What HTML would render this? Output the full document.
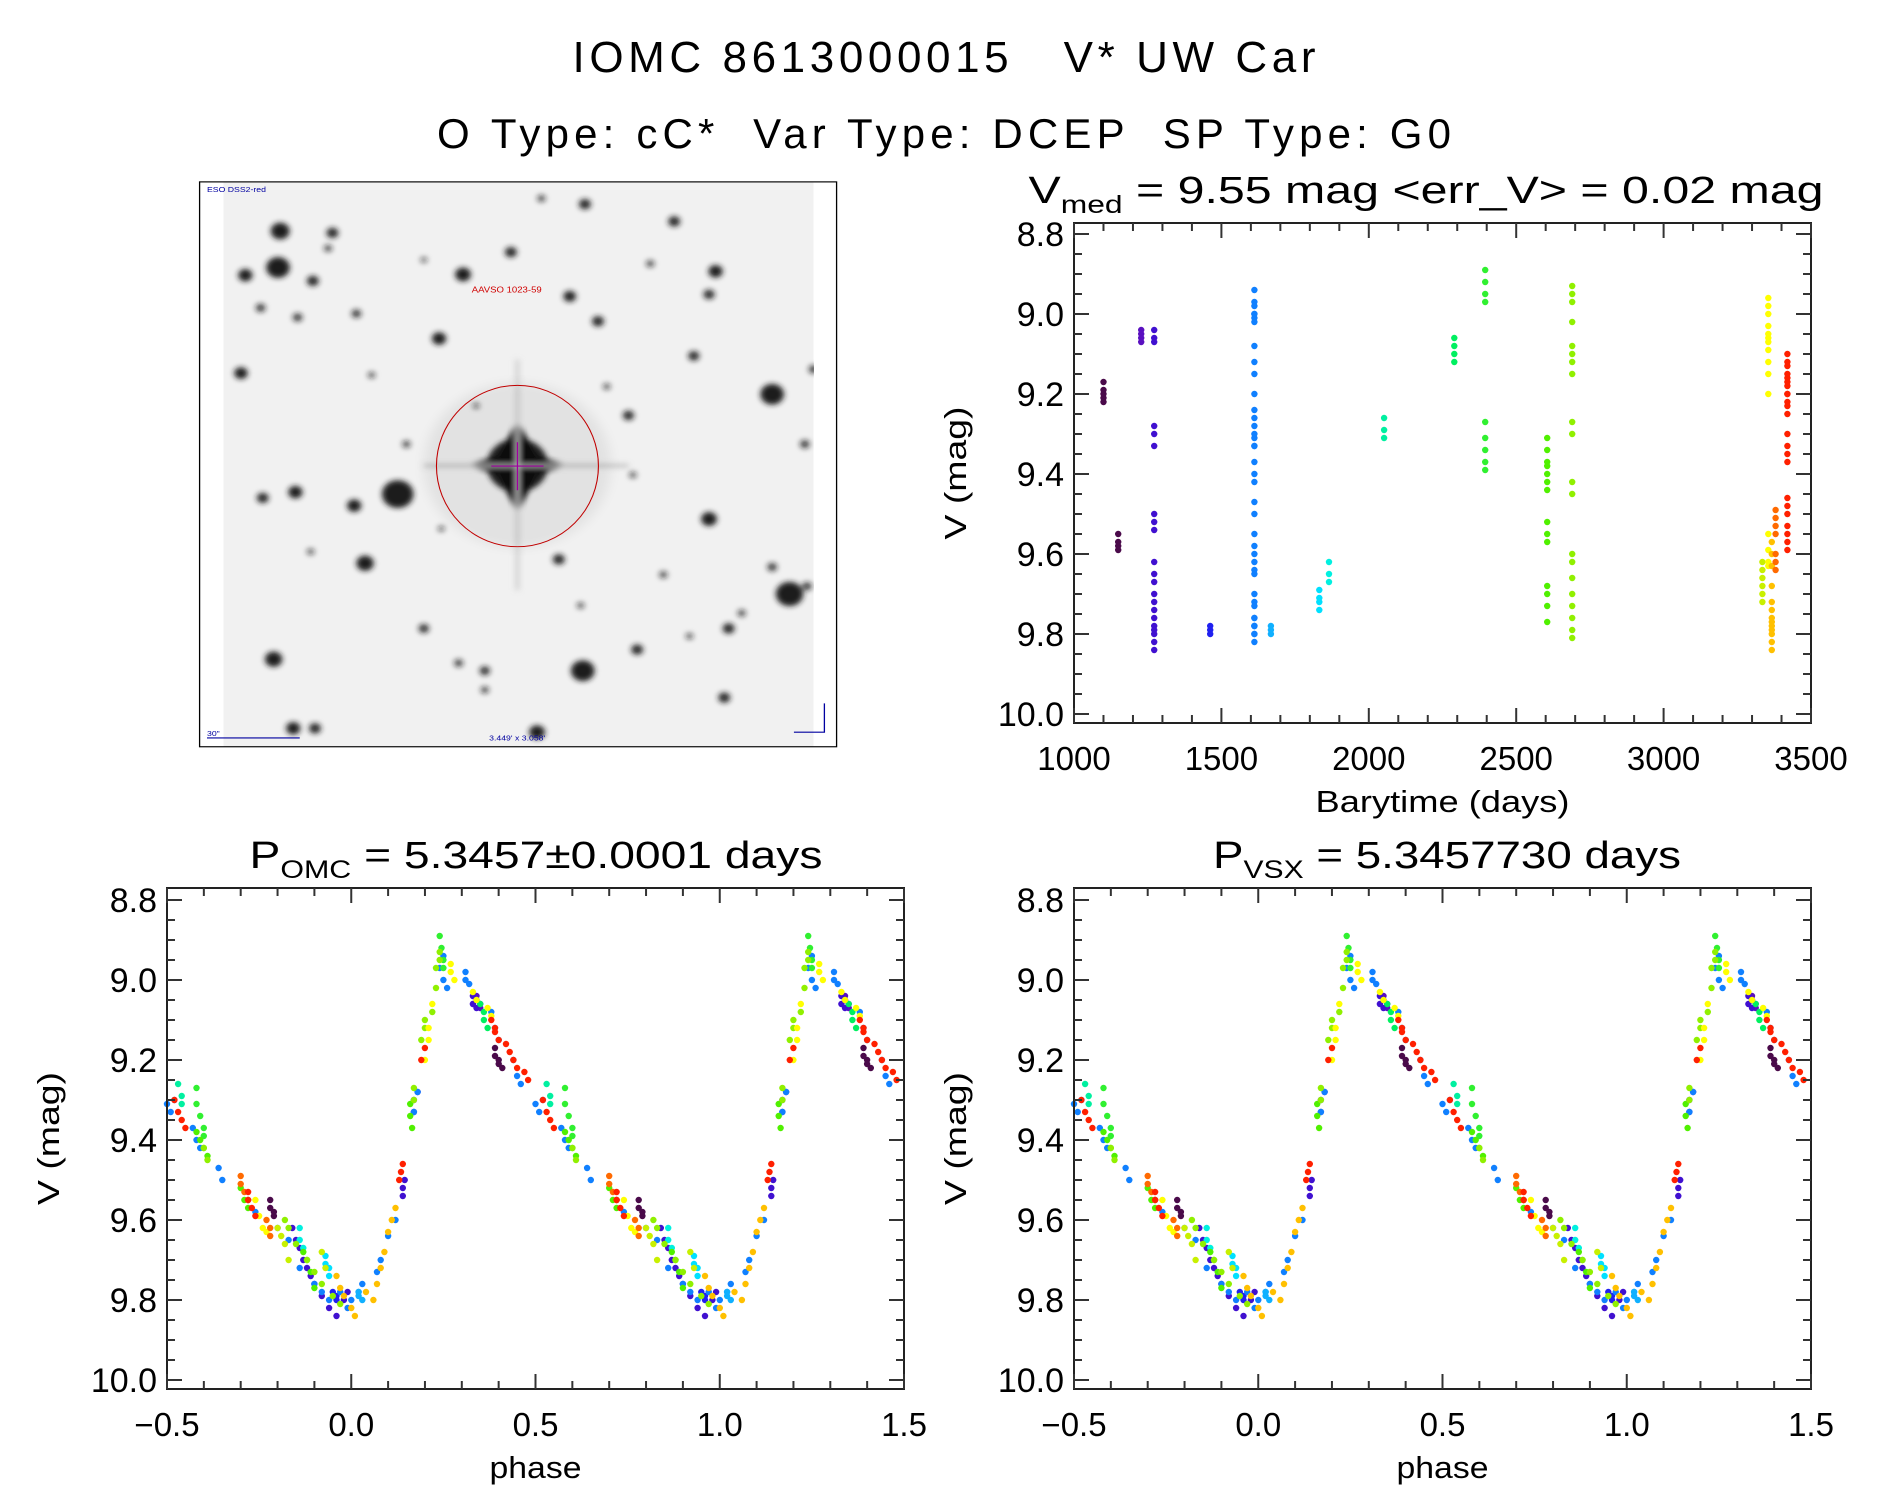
<!DOCTYPE html>
<html><head><meta charset="utf-8">
<style>
html,body{margin:0;padding:0;background:#fff;}
svg{display:block;}
text{font-family:"Liberation Sans","DejaVu Sans",sans-serif;fill:#000;}
</style></head>
<body>
<svg id="root" width="1889" height="1494" viewBox="0 0 1889 1494" xmlns="http://www.w3.org/2000/svg">
<defs>
<filter id="blur" x="-20%" y="-20%" width="140%" height="140%"><feGaussianBlur stdDeviation="7"/></filter>
<filter id="blur2" x="-50%" y="-50%" width="200%" height="200%"><feGaussianBlur stdDeviation="14"/></filter>
<clipPath id="imgclip"><rect x="100" y="57" width="1355" height="1471"/></clipPath>
</defs>
<text x="944" y="72" font-size="44" text-anchor="middle" textLength="743" lengthAdjust="spacing" xml:space="preserve">IOMC 8613000015   V* UW Car</text>
<text x="944" y="148" font-size="42" text-anchor="middle" textLength="1014" lengthAdjust="spacing" xml:space="preserve">O Type: cC*  Var Type: DCEP  SP Type: G0</text>

<g id="sky" transform="translate(180,160) scale(0.4354,0.384)">
<rect x="100" y="57" width="1355" height="1471" fill="#f1f1f1"/>
<g id="stars" clip-path="url(#imgclip)" filter="url(#blur)"></g>
<g clip-path="url(#imgclip)">
 <g filter="url(#blur)">
  <circle cx="775" cy="795" r="70" fill="#222"/>
  <polygon points="775,680 820,770 890,795 820,820 775,920 730,820 660,795 730,770" fill="#111"/>
  <rect x="560" y="792" width="470" height="8" fill="#bbb"/>
  <rect x="771" y="520" width="8" height="600" fill="#ccc"/>
 </g>
 <circle cx="775" cy="795" r="215" fill="#000" opacity="0.06" filter="url(#blur2)"/>
</g>
<line x1="775" y1="735" x2="775" y2="860" stroke="#a000a0" stroke-width="3"/>
<line x1="715" y1="797" x2="835" y2="797" stroke="#a000a0" stroke-width="3"/>
<ellipse cx="775" cy="797" rx="186" ry="210" fill="none" stroke="#c00000" stroke-width="2.5"/>
<text x="670" y="345" font-size="22" style="fill:#d00000">AAVSO 1023-59</text>
<text x="62" y="84" font-size="20" style="fill:#0000a0">ESO DSS2-red</text>
<text x="62" y="1500" font-size="20" style="fill:#0000a0">30"</text>
<line x1="62" y1="1505" x2="275" y2="1505" stroke="#0000a0" stroke-width="3"/>
<text x="710" y="1512" font-size="20" style="fill:#0000a0">3.449' x 3.058'</text>
<polyline points="1480,1415 1480,1490 1410,1490" fill="none" stroke="#0000a0" stroke-width="3"/>
<rect x="45" y="57" width="1463" height="1471" fill="none" stroke="#000" stroke-width="3"/>
</g>

<g id="p1"></g><g id="p2"></g><g id="p3"></g>
</svg>
<script>
// ===== DATA =====
const seasonTimes = [1100,1150,1228,1272,1462,1612,1668,1832,1865,2052,2290,2395,2605,2690,3335,3355,3367,3380,3420];
const seasonColors = ["#4a0a4a","#4a0a4a","#5a10c0","#4010d0","#2020f0","#1080ff","#10b0ff","#00e0ff","#00f0e0","#00f0a0","#00f060","#30f030","#50f000","#90f000","#c8f000","#ffff00","#ffc000","#ff6a00","#ff2000"];
const seasonPhases = [
 [0.39,0.39,0.40,0.40,0.41],
 [0.78,0.78,0.79,0.79],
 [0.34,0.34,0.35,0.35],
 [0.33,0.33,0.34,0.17,0.17,0.18,0.14,0.14,0.145,0.84,0.85,0.86,0.87,0.88,0.89,0.90,0.92,0.94,0.96,0.98,0.99],
 [0.95,0.96,0.96],
 [0.24,0.25,0.25,0.26,0.31,0.31,0.32,0.38,0.39,0.40,0.44,0.45,0.46,0.50,0.51,0.52,0.57,0.58,0.59,0.64,0.65,0.72,0.74,0.80,0.83,0.86,0.90,0.92,0.94,0.97,0.99,0.0,0.02,0.03,0.07,0.08,0.10,0.12,0.17,0.18],
 [0.02,0.02,0.03],
 [0.93,0.93,0.94,0.94],
 [0.86,0.86,0.87],
 [0.53,0.54,0.54],
 [0.35,0.36,0.36,0.37],
 [0.24,0.245,0.25,0.25,0.58,0.58,0.59,0.60,0.60],
 [0.16,0.16,0.165,0.58,0.59,0.60,0.61,0.70,0.71,0.72,0.87,0.88,0.89,0.90],
 [0.22,0.23,0.23,0.24,0.24,0.19,0.20,0.20,0.17,0.17,0.60,0.61,0.82,0.83,0.85,0.88,0.90,0.92,0.95,0.97],
 [0.80,0.81,0.82,0.83,0.92,0.93],
 [0.20,0.21,0.21,0.22,0.27,0.27,0.28,0.33,0.34,0.37,0.38,0.74,0.75,0.76,0.77],
 [0.96,0.97,0.98,0.0,0.01,0.04,0.06,0.07,0.08,0.09,0.10,0.11,0.12],
 [0.70,0.70,0.71,0.72,0.77,0.78,0.78],
 [0.38,0.39,0.39,0.40,0.42,0.43,0.44,0.45,0.47,0.48,0.52,0.53,0.54,0.55,0.13,0.135,0.14,0.19,0.20,0.72,0.72,0.73,0.74]
];
const seasonMags = [
 [9.17,9.19,9.20,9.21,9.22],
 [9.55,9.57,9.58,9.59],
 [9.04,9.05,9.06,9.07],
 [9.04,9.06,9.07,9.33,9.30,9.28,9.54,9.52,9.50,9.62,9.65,9.67,9.70,9.72,9.74,9.76,9.79,9.82,9.84,9.80,9.78],
 [9.78,9.79,9.80],
 [8.97,8.94,9.00,9.02,8.98,9.00,9.01,9.08,9.12,9.15,9.20,9.24,9.26,9.31,9.33,9.30,9.37,9.40,9.42,9.47,9.50,9.55,9.58,9.62,9.65,9.72,9.76,9.78,9.80,9.78,9.82,9.80,9.78,9.76,9.73,9.70,9.64,9.60,9.33,9.28],
 [9.78,9.79,9.80],
 [9.69,9.71,9.72,9.74],
 [9.62,9.65,9.67],
 [9.26,9.29,9.31],
 [9.06,9.08,9.10,9.12],
 [8.89,8.92,8.95,8.97,9.27,9.31,9.34,9.37,9.39],
 [9.31,9.34,9.37,9.38,9.40,9.42,9.44,9.52,9.55,9.57,9.68,9.70,9.73,9.77],
 [9.08,9.02,8.97,8.93,8.95,9.15,9.12,9.10,9.27,9.30,9.42,9.45,9.60,9.62,9.66,9.70,9.73,9.76,9.79,9.81],
 [9.62,9.64,9.66,9.70,9.68,9.72],
 [9.20,9.15,9.12,9.06,8.96,8.98,9.00,9.03,9.05,9.07,9.09,9.55,9.59,9.62,9.63],
 [9.74,9.77,9.79,9.82,9.84,9.78,9.80,9.76,9.72,9.68,9.63,9.60,9.57],
 [9.49,9.51,9.53,9.55,9.60,9.62,9.64],
 [9.10,9.12,9.13,9.15,9.16,9.18,9.20,9.22,9.23,9.25,9.30,9.33,9.35,9.37,9.50,9.48,9.46,9.20,9.17,9.53,9.55,9.57,9.59]
];
const magTicks = ["8.8","9.0","9.2","9.4","9.6","9.8","10.0"];
const timeTicks = ["1000","1500","2000","2500","3000","3500"];
const phaseTicks = ["\u22120.5","0.0","0.5","1.0","1.5"];
const phaseTickVals = [-0.5,0,0.5,1,1.5];
// star field (finder image coords)
const starX = [230,225,150,305,350,650,930,760,1135,1230,1215,895,960,595,140,1360,500,400,265,190,425,1215,1400,870,215,925,1050,1250,260,310,820,560,1260,700,405,270,185,1030,1180,1435,1455,1440,830,1080,340,640,1110,1360,520,1290,980,440,700,300,1170,1040,560,920,600,680];
const starY = [185,280,300,315,190,298,115,240,160,290,350,355,420,465,555,610,870,900,865,880,1050,935,1130,1040,1300,1330,1275,1400,1480,1480,1490,1220,1220,1330,400,410,385,665,510,740,545,1110,100,270,230,1310,1080,1060,740,1180,590,560,1380,1020,1240,820,260,1160,960,640];
const starR = [24,30,18,15,15,20,15,15,15,18,14,16,15,18,17,30,40,18,18,15,22,20,35,15,22,30,15,15,18,15,20,13,15,13,12,12,12,14,14,12,12,12,10,10,10,11,10,12,10,10,9,9,10,9,9,9,8,9,8,8];

const NS = "http://www.w3.org/2000/svg";
function el(tag, attrs, parent){const e=document.createElementNS(NS,tag);for(const k in attrs)e.setAttribute(k,attrs[k]);parent.appendChild(e);return e;}

const sg=document.getElementById('stars');
for(let i=0;i<starX.length;i++){
  const c=el('circle',{cx:starX[i],cy:starY[i],r:starR[i]*0.9,fill:'#1a1a1a',opacity:Math.min(1,0.45+starR[i]/30)},sg);
  
  
}

function panel(gid, box, xdom, xticksV, xticksL, xminor, xtitle, xtLen, title, sub, titleRest, tLen, tCx){
  const g=document.getElementById(gid);
  const [L,T,R,B]=box;
  const ypx0=box[5];
  const sx=v=>L+(v-xdom[0])/(xdom[1]-xdom[0])*(R-L);
  const sy=m=>ypx0+(m-8.8)*400;
  const pg=el('g',{},g);
  
  
  for(let s=0;s<seasonTimes.length;s++){
    for(let i=0;i<seasonPhases[s].length;i++){
      const ph=seasonPhases[s][i], m=seasonMags[s][i];
      let xs;
      if(xdom[0]===1000){xs=[seasonTimes[s]];}
      else{xs=[ph]; if(ph>=0.5) xs.push(ph-1); else xs.push(ph+1);}
      for(const xv of xs){
        const c=el('circle',{cx:sx(xv).toFixed(1),cy:sy(m).toFixed(1),r:3.2,fill:seasonColors[s]},pg);
        
        
      }
    }
  }
  const fr=el('rect',{x:L,y:T,width:R-L,height:B-T,fill:'none',stroke:'#222','stroke-width':2},g);
  
  
  for(let k=0;k<=24;k++){
    const m=8.8+k*0.05; const y=sy(m); if(y<T||y>B)continue;
    const len=(k%4===0)?15:8;
    el('line',{x1:L,y1:y,x2:L+len,y2:y,stroke:'#333','stroke-width':2},g);
    el('line',{x1:R,y1:y,x2:R-len,y2:y,stroke:'#333','stroke-width':2},g);
  }
  for(let k=0;k<magTicks.length;k++){
    const t=el('text',{x:L-10,y:sy(8.8+k*0.2)+12,'font-size':34,'text-anchor':'end'},g);
    t.textContent=magTicks[k];
    
    
  }
  for(let v=xdom[0];v<=xdom[1]+1e-9;v+=xminor){
    const x=sx(v);
    const major=xticksV.some(q=>Math.abs(q-v)<1e-6);
    const len=major?15:8;
    el('line',{x1:x,y1:B,x2:x,y2:B-len,stroke:'#333','stroke-width':2},g);
    el('line',{x1:x,y1:T,x2:x,y2:T+len,stroke:'#333','stroke-width':2},g);
  }
  for(let k=0;k<xticksV.length;k++){
    const t=el('text',{x:sx(xticksV[k]),y:B+47,'font-size':33,'text-anchor':'middle'},g);
    t.textContent=xticksL[k];
    
    
  }
  const xt=el('text',{x:(L+R)/2,y:B+89,'font-size':31,'text-anchor':'middle',textLength:xtLen,lengthAdjust:'spacingAndGlyphs'},g);
  xt.textContent=xtitle;
  
  
  const yt=el('text',{x:0,y:0,'font-size':31,'text-anchor':'middle',textLength:133,lengthAdjust:'spacingAndGlyphs',transform:`translate(${L-108},${(T+B)/2}) rotate(-90)`},g);
  yt.textContent='V (mag)';
  
  
  const tt=el('text',{x:tCx,y:T-20,'font-size':38,'text-anchor':'middle',textLength:tLen,lengthAdjust:'spacingAndGlyphs'},g);
  
  
  const a=document.createElementNS(NS,'tspan');a.textContent=title;tt.appendChild(a);
  const b=document.createElementNS(NS,'tspan');b.setAttribute('font-size','25');b.setAttribute('dy','10');b.textContent=sub;tt.appendChild(b);
  const c=document.createElementNS(NS,'tspan');c.setAttribute('dy','-10');c.textContent=titleRest;tt.appendChild(c);
}
panel('p1',[1074,223,1811,723,8.8,234],[1000,3500],[1000,1500,2000,2500,3000,3500],timeTicks,100,'Barytime (days)',254,'V','med',' = 9.55 mag <err_V> = 0.02 mag',795,1426);
panel('p2',[167,888,904,1389,8.8,900],[-0.5,1.5],phaseTickVals,phaseTicks,0.1,'phase',92,'P','OMC',' = 5.3457\u00b10.0001 days',573,536);
panel('p3',[1074,888,1811,1389,8.8,900],[-0.5,1.5],phaseTickVals,phaseTicks,0.1,'phase',92,'P','VSX',' = 5.3457730 days',468,1447);
</script>
</body></html>
